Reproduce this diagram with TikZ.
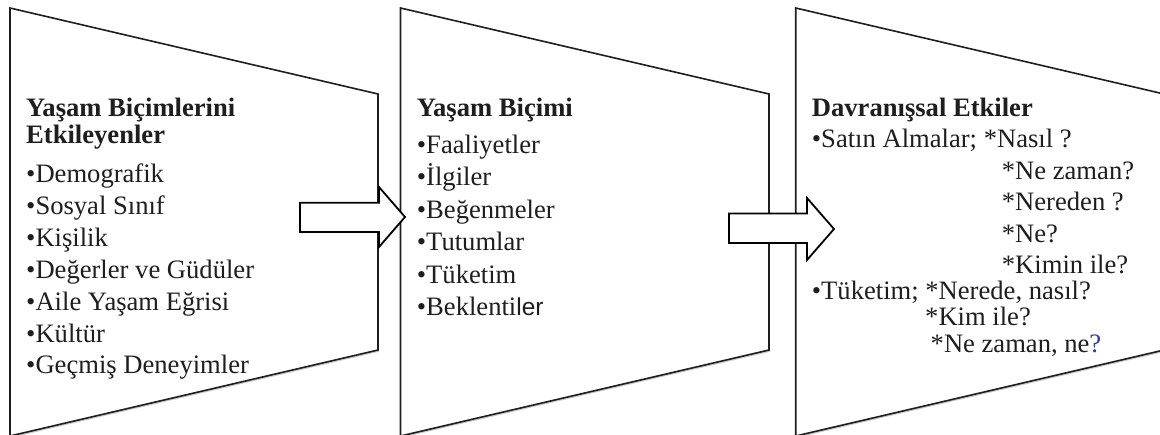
\documentclass[tikz,border=0pt]{standalone}
\usepackage{fontspec}
\setmainfont{Liberation Serif}
\newfontfamily\arialfont{Liberation Sans}
\usetikzlibrary{shadows}
\definecolor{ink}{RGB}{30,30,30}
\definecolor{qblue}{RGB}{35,60,175}
\begin{document}
\begin{tikzpicture}[x=1pt,y=-1pt,
  panel/.style={draw=ink, line width=1.6pt, fill=white, line join=miter,
    drop shadow={shadow xshift=0.8pt, shadow yshift=-1.8pt, opacity=0.35, fill=black!60}},
  bigarrow/.style={draw=black, line width=1.8pt, fill=white, line join=miter},
  txt/.style={anchor=base west, inner sep=0pt, text=ink, font=\fontsize{26.6}{30}\selectfont},
  hd/.style={txt, font=\fontsize{26.6}{30}\selectfont\bfseries}]
\useasboundingbox (0,0) rectangle (1160,434);
% panels
\draw[panel] (10,8) -- (378,94) -- (378,350) -- (10,436) -- cycle;
\draw[panel] (400.5,8) -- (769,94) -- (769,350) -- (400.5,436) -- cycle;
\draw[panel] (795.7,8) -- (1164,94) -- (1164,350) -- (795.7,436) -- cycle;
% arrows
\draw[bigarrow] (300,202.7) -- (379,202.7) -- (379,187) -- (405,217) -- (379,247) -- (379,232) -- (300,232) -- cycle;
\draw[bigarrow] (729,213.5) -- (807,213.5) -- (807,198) -- (834,229) -- (807,260) -- (807,243) -- (729,243) -- cycle;
% left column
\node[hd] (l0) at (26,116.7) {Yaşam Biçimlerini};
\node[hd] (l1) at (26,143) {Etkileyenler};
\node[txt] (l2) at (26,182.7) {•Demografik};
\node[txt] (l3) at (26,214.7) {•Sosyal Sınıf};
\node[txt] (l4) at (26,246.7) {•Kişilik};
\node[txt] (l5) at (26,278.7) {•Değerler ve Güdüler};
\node[txt] (l6) at (26,310.7) {•Aile Yaşam Eğrisi};
\node[txt] (l7) at (26,342.7) {•Kültür};
\node[txt] (l8) at (26,373) {•Geçmiş Deneyimler};
% middle column
\node[hd] (m0) at (416.7,116) {Yaşam Biçimi};
\node[txt] (m1) at (416.7,153.3) {•Faaliyetler};
\node[txt] (m2) at (416.7,185.8) {•İlgiler};
\node[txt] (m3) at (416.7,218.2) {•Beğenmeler};
\node[txt] (m4) at (416.7,250.6) {•Tutumlar};
\node[txt] (m5) at (416.7,283) {•Tüketim};
\node[txt] (m6) at (416.7,315.4) {•Beklenti{\arialfont\fontsize{24.5}{28}\selectfont ler}};
% right column
\node[hd] (r0) at (811.7,116.7) {Davranışsal Etkiler};
\node[txt] (r1) at (811.7,147) {•Satın Almalar; *Nasıl ?};
\node[txt] (r2) at (1001.7,179) {*Ne zaman?};
\node[txt] (r3) at (1001.7,210.5) {*Nereden ?};
\node[txt] (r4) at (1001.7,242) {*Ne?};
\node[txt] (r5) at (1001.7,273) {*Kimin ile?};
\node[txt] (r6) at (811.7,299) {•Tüketim; *Nerede, nasıl?};
\node[txt] (r7) at (925,325.5) {*Kim ile?};
\node[txt] (r8) at (930.5,352) {*Ne zaman, ne\textcolor{qblue}{?}};
\end{tikzpicture}
\end{document}
